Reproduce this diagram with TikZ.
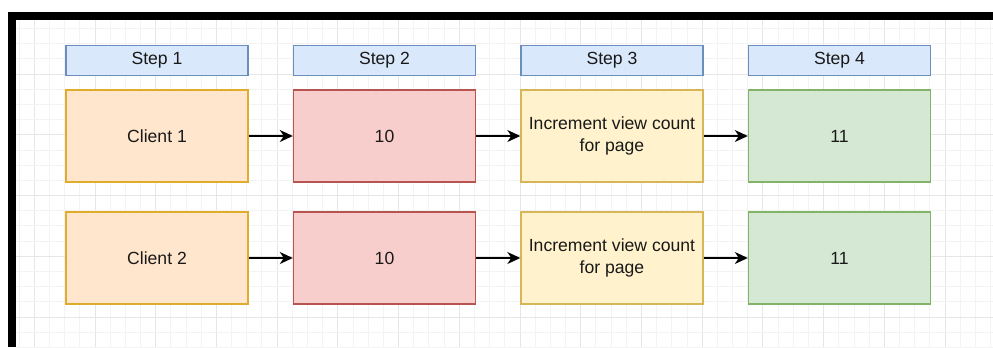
\documentclass[tikz,border=0pt]{standalone}
\usepackage{fontspec}
\setmainfont{Liberation Sans}
\usetikzlibrary{arrows.meta}
\definecolor{gridminor}{HTML}{F3F3F3}
\definecolor{gridmajor}{HTML}{E6E6E6}
\definecolor{hdrfill}{HTML}{DAE8FC}\definecolor{hdrline}{HTML}{6C8EBF}
\definecolor{orgfill}{HTML}{FFE6CC}\definecolor{orgline}{HTML}{E0AC2E}
\definecolor{redfill}{HTML}{F8CECC}\definecolor{redline}{HTML}{B85450}
\definecolor{ylwfill}{HTML}{FFF2CC}\definecolor{ylwline}{HTML}{D6B656}
\definecolor{grnfill}{HTML}{D5E8D4}\definecolor{grnline}{HTML}{82B366}
\tikzset{
  base/.style={draw, line width=1.4bp, minimum width=182bp, align=center,
    inner sep=0pt, font=\fontsize{17.6bp}{22bp}\selectfont, text=black!90},
  header/.style={base, fill=hdrfill, draw=hdrline, minimum height=30bp},
  cell/.style={base, minimum height=92bp},
  client/.style={cell, fill=orgfill, draw=orgline},
  value/.style={cell, fill=redfill, draw=redline},
  action/.style={cell, fill=ylwfill, draw=ylwline},
  result/.style={cell, fill=grnfill, draw=grnline},
  flow/.style={line width=1.6bp, -{Stealth[length=13bp, width=12bp, inset=4bp]}},
}
\begin{document}
\begin{tikzpicture}[x=1bp,y=-1bp]
\useasboundingbox (0,0) rectangle (993,347);
\fill[white] (0,0) rectangle (993,347);
% background grid
\foreach \i in {-5,...,60} {
  \pgfmathsetmacro{\gx}{95+15.18*\i}
  \pgfmathtruncatemacro{\m}{mod(\i+100,4)}
  \ifnum\m=0 \def\gc{gridmajor}\else\def\gc{gridminor}\fi
  \ifdim\gx pt>16pt \draw[\gc, line width=1bp] (\gx,20) -- (\gx,347); \fi
}
\foreach \j in {-20,...,2} {
  \pgfmathsetmacro{\gy}{317+15.18*\j}
  \pgfmathtruncatemacro{\m}{mod(\j+100,4)}
  \ifnum\m=0 \def\gc{gridmajor}\else\def\gc{gridminor}\fi
  \ifdim\gy pt>20pt \draw[\gc, line width=1bp] (16,\gy) -- (993,\gy); \fi
}
% frame
\fill[black] (8,12) rectangle (993,20);
\fill[black] (8,12) rectangle (16,347);
% headers
\node[header] (h1) at (157,60.5) {Step 1};
\node[header] (h2) at (384.5,60.5) {Step 2};
\node[header] (h3) at (612,60.5) {Step 3};
\node[header] (h4) at (839.5,60.5) {Step 4};
% first row
\node[client] (a1) at (157,136) {Client 1};
\node[value]  (b1) at (384.5,136) {10};
\node[action] (c1) at (612,136) {Increment view count\\for page};
\node[result] (d1) at (839.5,136) {11};
% second row
\node[client] (a2) at (157,258) {Client 2};
\node[value]  (b2) at (384.5,258) {10};
\node[action] (c2) at (612,258) {Increment view count\\for page};
\node[result] (d2) at (839.5,258) {11};
% connectors
\foreach \r in {1,2} {
  \draw[flow] (a\r) -- (b\r);
  \draw[flow] (b\r) -- (c\r);
  \draw[flow] (c\r) -- (d\r);
}
\end{tikzpicture}
\end{document}
